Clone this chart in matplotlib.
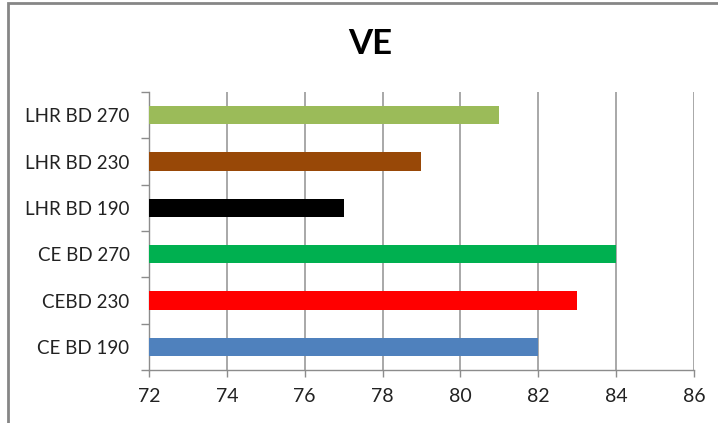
import matplotlib
matplotlib.use("Agg")
import matplotlib.pyplot as plt
from matplotlib.patches import Rectangle

categories = ["CE BD 190", "CEBD 230", "CE BD 270", "LHR BD 190", "LHR BD 230", "LHR BD 270"]
values = [82, 83, 84, 77, 79, 81]
colors = ["#4F81BD", "#FF0000", "#00B050", "#000000", "#984807", "#9BBB59"]
x_ticks = [72, 74, 76, 78, 80, 82, 84, 86]
title = "VE"

plt.rcParams["font.family"] = ["Lato", "DejaVu Sans"]

fig = plt.figure(figsize=(7.18, 4.23), dpi=100)
ax = fig.add_axes([149 / 718, 1 - 370 / 423, (694 - 149) / 718, (370 - 92) / 423])

xmin = x_ticks[0]
ypos = list(range(len(categories)))
ax.barh(ypos, [v - xmin for v in values], left=xmin, height=0.39, color=colors, zorder=3)

ax.set_xlim(x_ticks[0], x_ticks[-1])
ax.set_ylim(-0.5, len(categories) - 0.5)
ax.set_xticks(x_ticks)
ax.set_xticklabels([str(t) for t in x_ticks], fontsize=14, color="#222222")
ax.set_yticks(ypos)
ax.set_yticklabels(categories, fontsize=13.5, color="#222222")
ax.tick_params(axis="y", length=0, pad=14)
ax.tick_params(axis="x", length=5, color="#8C8C8C", width=1, pad=8)

# category separators as outward ticks on the value axis
ax.set_yticks([i - 0.5 for i in range(len(categories) + 1)], minor=True)
ax.tick_params(axis="y", which="minor", length=6, color="#8C8C8C", width=1)

ax.grid(axis="x", color="#9A9A9A", linewidth=1.2, zorder=0)
for side in ["top", "right"]:
    ax.spines[side].set_visible(False)
for side in ["left", "bottom"]:
    ax.spines[side].set_color("#8C8C8C")
    ax.spines[side].set_linewidth(1)

fig.text(370 / 718, 1 - 44 / 423, title, ha="center", va="center",
         fontsize=25, fontweight="bold", color="#000000")

# chart frame
fig.patches.append(Rectangle((8 / 718, -0.01), 1.0, 1 - 3 / 423 + 0.01, transform=fig.transFigure,
                             fill=False, edgecolor="#868686", linewidth=2))

fig.savefig("out.png", dpi=100)
